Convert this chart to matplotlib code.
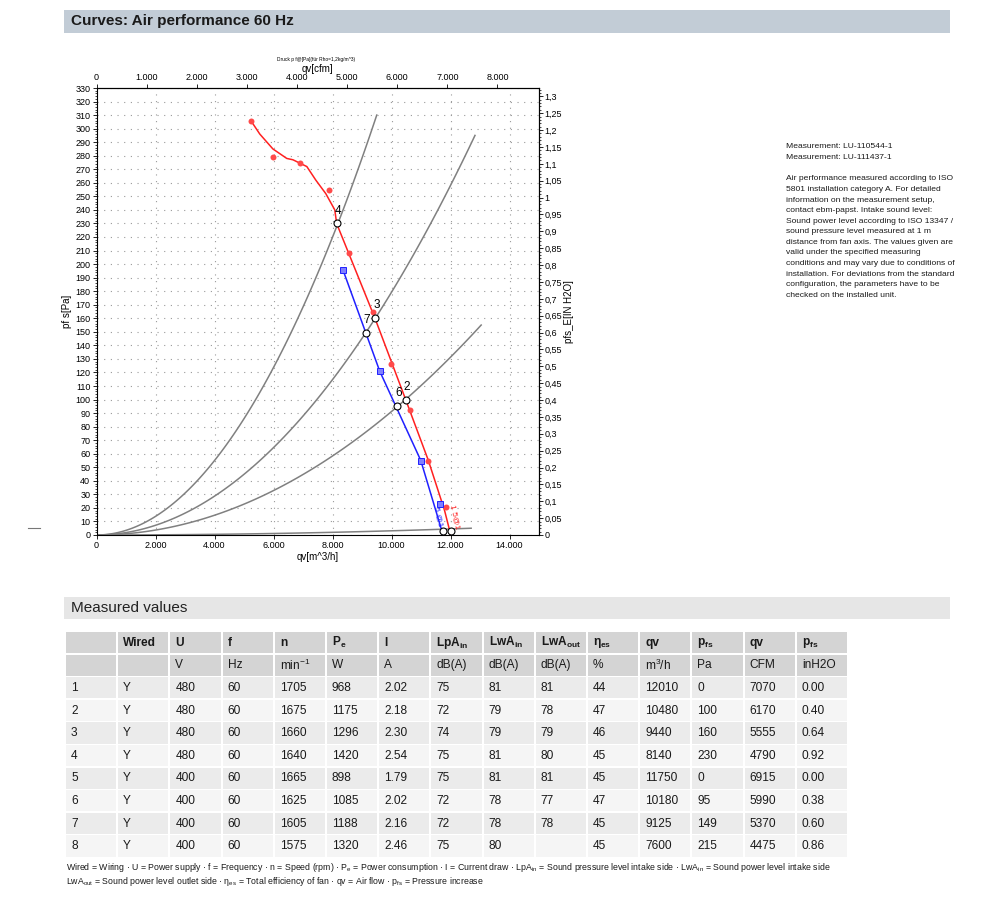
import numpy as np
import matplotlib
matplotlib.use('Agg')
import matplotlib.pyplot as plt
from matplotlib import font_manager
from matplotlib.patches import Rectangle
from matplotlib.ticker import MultipleLocator, FuncFormatter

W, H = 1000, 901
CFM = 1.699      # m3/h per cfm
INH2O = 249.09   # Pa per inH2O

installed = {f.name for f in font_manager.fontManager.ttflist}
NARROW = 'Liberation Sans Narrow' if 'Liberation Sans Narrow' in installed else 'Liberation Sans'
NARROW_OK = NARROW == 'Liberation Sans Narrow'
plt.rcParams['font.family'] = ['Liberation Sans', 'DejaVu Sans']

# ---- measured values (table) ----
point_no = ['1', '2', '3', '4', '5', '6', '7', '8']
wired = ['Y', 'Y', 'Y', 'Y', 'Y', 'Y', 'Y', 'Y']
voltage = [480, 480, 480, 480, 400, 400, 400, 400]
freq = [60, 60, 60, 60, 60, 60, 60, 60]
speed = [1705, 1675, 1660, 1640, 1665, 1625, 1605, 1575]
power = [968, 1175, 1296, 1420, 898, 1085, 1188, 1320]
current = ['2.02', '2.18', '2.30', '2.54', '1.79', '2.02', '2.16', '2.46']
lpa_in = [75, 72, 74, 75, 75, 72, 72, 75]
lwa_in = [81, 79, 79, 81, 81, 78, 78, 80]
lwa_out = [81, 78, 79, 80, 81, 77, 78, '']
eta_es = [44, 47, 46, 45, 45, 47, 45, 45]
qv_m3h = [12010, 10480, 9440, 8140, 11750, 10180, 9125, 7600]
pfs_pa = [0, 100, 160, 230, 0, 95, 149, 215]
qv_cfm = [7070, 6170, 5555, 4790, 6915, 5990, 5370, 4475]
pfs_inh2o = ['0.00', '0.40', '0.64', '0.92', '0.00', '0.38', '0.60', '0.86']

head1 = ['', 'Wired', 'U', 'f', 'n', r'P$_\mathregular{e}$', 'I', r'LpA$_\mathregular{in}$',
         r'LwA$_\mathregular{in}$', r'LwA$_\mathregular{out}$', r'η$_\mathregular{es}$', 'qv',
         r'p$_\mathregular{fs}$', 'qv', r'p$_\mathregular{fs}$']
head2 = ['', '', 'V', 'Hz', r'min$^\mathregular{-1}$', 'W', 'A', 'dB(A)', 'dB(A)', 'dB(A)',
         '%', r'm$^\mathregular{3}$/h', 'Pa', 'CFM', 'inH2O']

# ---- curves ----
red_line_qv = [5230, 5535, 5980, 6450, 6660, 7130, 7434, 7773, 8078, 8140, 9440, 10480, 11250, 11800, 12010]
red_line_p = [306, 296, 285, 278, 277, 272, 262, 252, 240, 230, 160, 100, 55, 18, 0]
red_dot_qv = [5230, 5976, 6892, 7875, 8553, 9366, 9976, 10620, 11230, 11850]
red_dot_p = [306, 279, 275, 255, 208, 165, 126, 92, 55, 21]

blue_line_qv = [8350, 9600, 10993, 11750]
blue_line_p = [196, 121, 55, 0]
blue_sq_qv = [8350, 9600, 10993, 11630]
blue_sq_p = [196, 121, 55, 23]

# system curves (p ~ qv^2), end points
sys_end_qv = [9500, 12830, 13040, 12700]
sys_end_p = [310, 295, 155, 5]

shown_points = [0, 1, 2, 3, 4, 5, 6]

info_lines = [
    'Measurement: LU-110544-1',
    'Measurement: LU-111437-1',
    '',
    'Air performance measured according to ISO',
    '5801 installation category A. For detailed',
    'information on the measurement setup,',
    'contact ebm-papst. Intake sound level:',
    'Sound power level according to ISO 13347 /',
    'sound pressure level measured at 1 m',
    'distance from fan axis. The values given are',
    'valid under the specified measuring',
    'conditions and may vary due to conditions of',
    'installation. For deviations from the standard',
    'configuration, the parameters have to be',
    'checked on the installed unit.',
]

foot1 = (r'Wired = Wiring · U = Power supply · f = Frequency · n = Speed (rpm) · P$_\mathregular{e}$ = Power consumption · '
         r'I = Current draw · LpA$_\mathregular{in}$ = Sound pressure level intake side · LwA$_\mathregular{in}$ = Sound power level intake side')
foot2 = (r'LwA$_\mathregular{out}$ = Sound power level outlet side · η$_\mathregular{es}$ = Total efficiency of fan · '
         r'qv = Air flow · p$_\mathregular{fs}$ = Pressure increase')


fig = plt.figure(figsize=(W / 100, H / 100), dpi=100)

# page overlay in pixel coordinates
ov = fig.add_axes([0, 0, 1, 1], zorder=0)
ov.set_xlim(0, W)
ov.set_ylim(H, 0)
ov.axis('off')

ov.add_patch(Rectangle((64, 10), 886, 23, color='#c2ccd6', lw=0))
ov.text(71, 21.5, 'Curves: Air performance 60 Hz', family=NARROW, weight='bold',
        fontsize=12.5 if NARROW_OK else 11, color='#1a1a1a', va='center')
ov.add_patch(Rectangle((64, 597), 886, 22, color='#e6e6e6', lw=0))
ov.text(71, 608, 'Measured values', fontsize=11, color='#222222', va='center')
ov.plot([28, 40], [528, 528], color='#777777', lw=0.8)

tsize = 10 if NARROW_OK else 8.6
for i, line in enumerate(info_lines):
    ov.text(786, 147 + i * 10.6, line, family=NARROW, fontsize=7 if NARROW_OK else 6.1,
            color='#1a1a1a', va='center')

# table
col_w = 52.2
row_h = 22.6
rows = [head1, head2]
for k in range(len(point_no)):
    rows.append([point_no[k], wired[k], voltage[k], freq[k], speed[k], power[k], current[k],
                 lpa_in[k], lwa_in[k], lwa_out[k], eta_es[k], qv_m3h[k], pfs_pa[k],
                 qv_cfm[k], pfs_inh2o[k]])
for r, row in enumerate(rows):
    top = 632 + r * row_h
    if r < 2:
        bg = '#d4d4d4'
    else:
        bg = '#ebebeb' if r % 2 == 0 else '#f5f5f5'
    for c, val in enumerate(row):
        left = 66 + c * col_w
        ov.add_patch(Rectangle((left, top), col_w - 2, row_h - 1.5, color=bg, lw=0))
        ov.text(left + 5, top + row_h / 2 - 0.5, str(val), family=NARROW, fontsize=tsize,
                weight='bold' if r == 0 else 'normal', color='#1a1a1a', va='center')

fsize = 6.6 if NARROW_OK else 6.3
ov.text(66, 867, foot1, family=NARROW, fontsize=fsize, color='#1a1a1a', va='center')
ov.text(66, 882, foot2, family=NARROW, fontsize=fsize, color='#1a1a1a', va='center')

# ---- chart ----
ax = fig.add_axes([96.5 / W, 1 - 535 / H, (539 - 96.5) / W, (535 - 88) / H], zorder=2)
ax.set_xlim(0, 15000)
ax.set_ylim(0, 330)
ax.patch.set_alpha(0)

for q_end, p_end in zip(sys_end_qv, sys_end_p):
    q = np.linspace(0, q_end, 120)
    ax.plot(q, p_end * (q / q_end) ** 2, color='#808080', lw=1.1, zorder=2)

ax.plot(red_line_qv, red_line_p, color='#ff2020', lw=1.1, zorder=3)
ax.plot(red_dot_qv, red_dot_p, 'o', color='#ff4a4a', ms=4.3, mew=0, zorder=4)
ax.plot(blue_line_qv, blue_line_p, color='#2020ff', lw=1.1, zorder=3)
ax.plot(blue_sq_qv, blue_sq_p, 's', mfc='#7f7fff', mec='#2020ff', ms=4, mew=0.7, zorder=4)

for i in shown_points:
    ax.plot(qv_m3h[i], pfs_pa[i] + (3 if pfs_pa[i] == 0 else 0), 'o', mfc='white', mec='black',
            ms=5, mew=0.8, zorder=5, clip_on=False)
    if pfs_pa[i] > 0:
        ax.annotate(point_no[i], (qv_m3h[i], pfs_pa[i]), xytext=(1, 5),
                    textcoords='offset points', fontsize=8.5, ha='center', va='bottom', zorder=6)

ax.text(12150, 4, '1 5@1', color='#ff2020', fontsize=6, rotation=-78, ha='center', va='bottom')
ax.text(11600, 6, '5 @1', color='#2020ff', fontsize=6, rotation=-78, ha='center', va='bottom')

ax.xaxis.set_major_locator(MultipleLocator(2000))
ax.yaxis.set_major_locator(MultipleLocator(10))
ax.yaxis.set_minor_locator(MultipleLocator(2))
thousands = FuncFormatter(lambda v, pos: f'{int(round(v)):,}'.replace(',', '.'))
ax.xaxis.set_major_formatter(thousands)
ax.yaxis.set_major_formatter(FuncFormatter(lambda v, pos: f'{int(round(v))}'))
ax.grid(True, which='major', color='#9a9a9a', lw=0.8, linestyle=(0, (1, 5)))
ax.tick_params(which='major', length=3, width=0.6, labelsize=6.5, pad=1.5)
ax.tick_params(which='minor', length=1.5, width=0.5)
for s in ax.spines.values():
    s.set_linewidth(0.8)
ax.set_xlabel('qv[m^3/h]', fontsize=7, labelpad=1)
ax.set_ylabel('pf s[Pa]', fontsize=7, labelpad=2)

top = ax.secondary_xaxis('top', functions=(lambda x: x / CFM, lambda x: x * CFM))
top.set_xticks(np.arange(0, 9000, 1000))
top.xaxis.set_major_formatter(thousands)
top.tick_params(length=3, width=0.6, labelsize=6.5, pad=1)
top.set_xlabel('qv[cfm]', fontsize=7, labelpad=1)

right = ax.secondary_yaxis('right', functions=(lambda p: p / INH2O, lambda v: v * INH2O))
right.set_yticks(np.arange(0, 1.3001, 0.05))
right.yaxis.set_minor_locator(MultipleLocator(0.01))
right.yaxis.set_major_formatter(FuncFormatter(
    lambda v, pos: f'{v:.2f}'.rstrip('0').rstrip('.').replace('.', ',')))
right.tick_params(which='major', length=3, width=0.6, labelsize=6.5, pad=1)
right.tick_params(which='minor', length=1.5, width=0.5)
right.set_ylabel('pfs_E[IN H2O]', fontsize=7, labelpad=1)

ov.text(316, 59, 'Druck p f@[Pa](für Rho=1,2kg/m^3)', fontsize=3.5, ha='center', va='center')

fig.savefig('out.png', dpi=100)
